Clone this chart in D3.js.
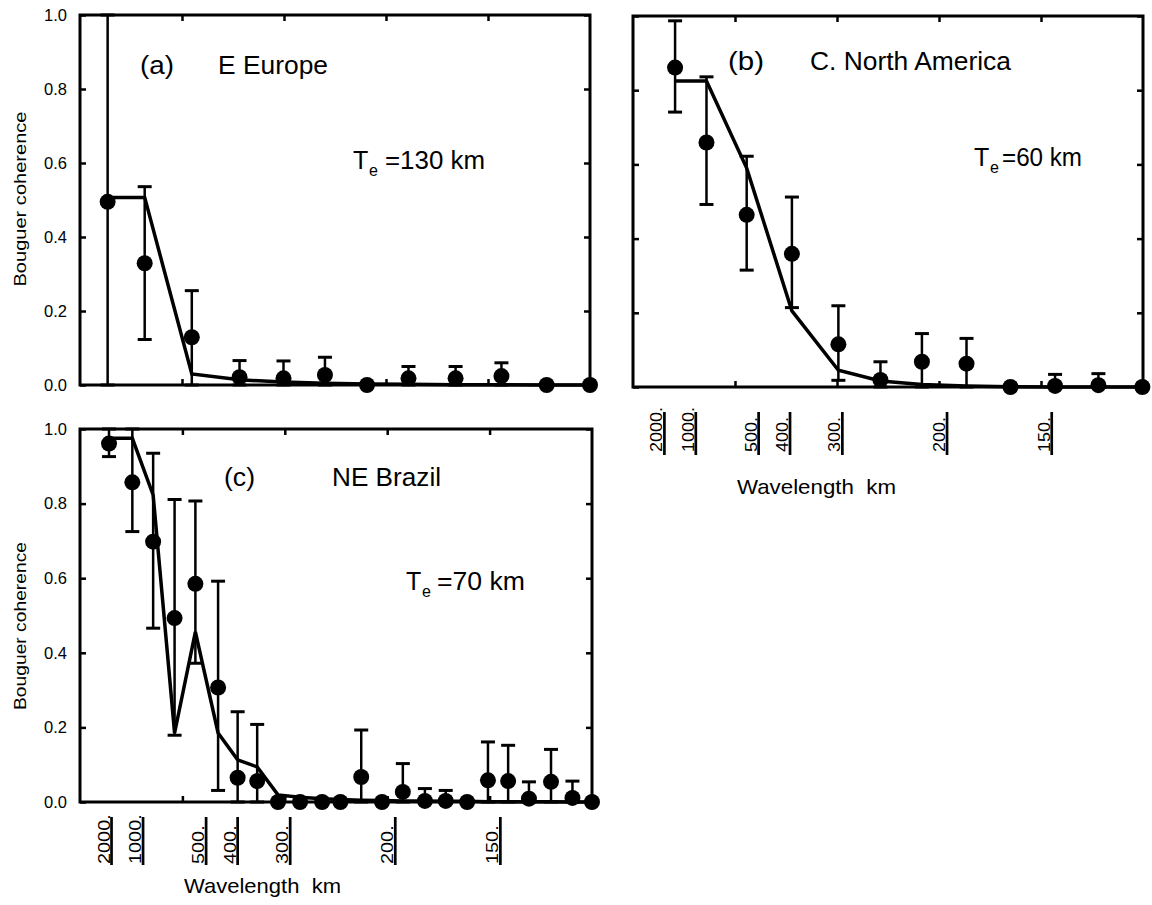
<!DOCTYPE html>
<html>
<head>
<meta charset="utf-8">
<script src="https://cdn.jsdelivr.net/npm/d3@7"></script>
<style>
body { margin: 0; background: #fff; }
svg { display: block; font-family: "Liberation Sans", Arial, Helvetica, sans-serif; }
</style>
</head>
<body>
<svg id="chart" width="1152" height="905"></svg>
<script>
// wavenumber in 1/(1000 km), i.e. 1000 / wavelength
const xMax = 8.12

// (a) E Europe
const waveA = [0.44, 1.03, 1.78, 2.54, 3.24, 3.90, 4.57, 5.23, 5.98, 6.71, 7.43, 8.12]
const cohA = [0.495, 0.329, 0.129, 0.021, 0.018, 0.027, 0, 0.018, 0.018, 0.024, 0, 0]
const lowA = [0, 0.123, 0, 0, 0, 0, null, 0, 0, 0, null, null]
const highA = [1.0, 0.536, 0.255, 0.066, 0.065, 0.075, null, 0.05, 0.05, 0.06, null, null]
const modelA = [0.507, 0.507, 0.03, 0.014, 0.008, 0.005, 0.003, 0.002, 0.001, 0.001, 0, 0]

// (b) C. North America
const waveB = [0.67, 1.17, 1.81, 2.53, 3.27, 3.94, 4.60, 5.31, 6.01, 6.72, 7.41, 8.11]
const cohB = [0.861, 0.659, 0.464, 0.359, 0.115, 0.019, 0.068, 0.063, 0, 0.003, 0.005, 0]
const lowB = [0.741, 0.492, 0.315, 0.214, 0.018, 0, 0, 0, null, 0, 0, null]
const highB = [0.987, 0.836, 0.622, 0.512, 0.219, 0.068, 0.144, 0.131, null, 0.034, 0.036, null]
const modelB = [0.825, 0.825, 0.59, 0.205, 0.045, 0.016, 0.007, 0.003, 0.001, 0, 0, 0]

// (c) NE Brazil
const waveC = [0.46, 0.83, 1.16, 1.50, 1.83, 2.19, 2.50, 2.81, 3.14, 3.49, 3.84, 4.13,
    4.46, 4.79, 5.12, 5.47, 5.80, 6.14, 6.47, 6.79, 7.12, 7.47, 7.81, 8.12]
const cohC = [0.961, 0.857, 0.698, 0.493, 0.585, 0.307, 0.065, 0.056, 0, 0, 0, 0,
    0.067, 0, 0.027, 0.003, 0.003, 0, 0.058, 0.056, 0.009, 0.054, 0.011, 0]
const lowC = [0.926, 0.725, 0.466, 0.179, 0.372, 0.031, 0, 0, null, null, null, null,
    0, null, 0, 0, 0, null, 0, 0, 0, 0, 0, null]
const highC = [1.0, 1.0, 0.935, 0.811, 0.807, 0.592, 0.242, 0.208, null, null, null, null,
    0.193, null, 0.103, 0.036, 0.031, null, 0.161, 0.152, 0.054, 0.141, 0.056, null]
const modelC = [0.975, 0.975, 0.823, 0.185, 0.456, 0.185, 0.113, 0.094, 0.019, 0.013, 0.009, 0.007,
    0.005, 0.004, 0.003, 0.003, 0.002, 0.002, 0.001, 0.001, 0.001, 0.001, 0, 0]

const wavelengthTicks = [2000, 1000, 500, 400, 300, 200, 150]
const wavelengthLabels = ["2000.", "1000.", "500.", "400.", "300.", "200.", "150."]
const yTicks = [0, 0.2, 0.4, 0.6, 0.8, 1.0]

const svg = d3.select('#chart')

const fit = (sel, len) => sel.attr('textLength', len).attr('lengthAdjust', 'spacingAndGlyphs')

const panels = [
    {
        wave: waveA, coh: cohA, low: lowA, high: highA, model: modelA,
        left: 80, right: 590, top: 15, bottom: 385,
        tag: '(a)', tagX: 140, tagLen: 34, region: 'E Europe', regionX: 218, regionLen: 110, titleY: 74,
        te: '=130 km', teX: 353, eqX: 385, eqLen: 100, teY: 169,
        yTitle: {x: 26, cy: 199, len: 175}, yLabels: true, xLabels: null
    },
    {
        wave: waveB, coh: cohB, low: lowB, high: highB, model: modelB,
        left: 633, right: 1143, top: 16, bottom: 387,
        tag: '(b)', tagX: 728, tagLen: 36, region: 'C. North America', regionX: 810, regionLen: 201, titleY: 70,
        te: '=60 km', teX: 974, eqX: 1002, eqLen: 80, teY: 166,
        yTitle: null, yLabels: false,
        xLabels: {barTop: 412, barBottom: 455, textBottom: 452, stretch: 1.06},
        xTitle: {x: 737, y: 494, len: 159}
    },
    {
        wave: waveC, coh: cohC, low: lowC, high: highC, model: modelC,
        left: 80, right: 592, top: 429, bottom: 802,
        tag: '(c)', tagX: 224, tagLen: 31, region: 'NE Brazil', regionX: 332, regionLen: 109, titleY: 486,
        te: '=70 km', teX: 406, eqX: 437, eqLen: 88, teY: 590,
        yTitle: {x: 26, cy: 626, len: 168}, yLabels: true,
        xLabels: {barTop: 817, barBottom: 865, textBottom: 864, stretch: 1.17},
        xTitle: {x: 184, y: 893, len: 157}
    }
]

const drawPanel = function (p) {
    const x = d3.scaleLinear().domain([0, xMax]).range([p.left, p.right])
    const y = d3.scaleLinear().domain([0, 1]).range([p.bottom, p.top])
    const g = svg.append('g')
    const xTickVals = d3.range(1, 5).map(i => i * xMax / 5)

    const styleAxis = sel => {
        sel.select('.domain').remove()
        sel.selectAll('.tick line').attr('stroke', '#000').attr('stroke-width', 2.5)
        sel.selectAll('.tick text').attr('fill', '#000').style('font-size', '16.5px')
    }

    g.append('g').attr('transform', `translate(${p.left},0)`)
        .call(d3.axisLeft(y).tickValues(yTicks).tickSize(-6).tickPadding(13)
            .tickFormat(p.yLabels ? d3.format('.1f') : ''))
        .call(styleAxis)
    g.append('g').attr('transform', `translate(${p.right},0)`)
        .call(d3.axisRight(y).tickValues(yTicks).tickSize(-6).tickFormat(''))
        .call(styleAxis)
    g.append('g').attr('transform', `translate(0,${p.top})`)
        .call(d3.axisTop(x).tickValues(xTickVals).tickSize(-6).tickFormat(''))
        .call(styleAxis)
    g.append('g').attr('transform', `translate(0,${p.bottom})`)
        .call(d3.axisBottom(x).tickValues(xTickVals).tickSize(-6).tickFormat(''))
        .call(styleAxis)

    g.append('rect')
        .attr('x', p.left).attr('y', p.top)
        .attr('width', p.right - p.left).attr('height', p.bottom - p.top)
        .attr('fill', 'none').attr('stroke', '#000').attr('stroke-width', 3)

    const idx = d3.range(p.wave.length)

    // model curve
    g.append('path')
        .datum(idx)
        .attr('fill', 'none').attr('stroke', '#000').attr('stroke-width', 3.5)
        .attr('stroke-linejoin', 'miter')
        .attr('d', d3.line().x(i => x(p.wave[i])).y(i => y(p.model[i])))

    // error bars
    const bars = idx.filter(i => p.low[i] !== null)
    g.selectAll('line.err').data(bars).join('line')
        .attr('class', 'err')
        .attr('x1', i => x(p.wave[i])).attr('x2', i => x(p.wave[i]))
        .attr('y1', i => y(p.low[i])).attr('y2', i => y(p.high[i]))
        .attr('stroke', '#000').attr('stroke-width', 2.5)
    const caps = bars.flatMap(i => [[i, p.low[i]], [i, p.high[i]]])
    g.selectAll('line.cap').data(caps).join('line')
        .attr('class', 'cap')
        .attr('x1', d => x(p.wave[d[0]]) - 7).attr('x2', d => x(p.wave[d[0]]) + 7)
        .attr('y1', d => y(d[1])).attr('y2', d => y(d[1]))
        .attr('stroke', '#000').attr('stroke-width', 3)

    g.selectAll('circle').data(idx).join('circle')
        .attr('cx', i => x(p.wave[i])).attr('cy', i => y(p.coh[i]))
        .attr('r', 8).attr('fill', '#000')

    // titles
    g.append('text').attr('x', p.tagX).attr('y', p.titleY)
        .style('font-size', '25px').text(p.tag).call(fit, p.tagLen)
    g.append('text').attr('x', p.regionX).attr('y', p.titleY)
        .style('font-size', '25px').text(p.region).call(fit, p.regionLen)

    g.append('text').attr('x', p.teX).attr('y', p.teY)
        .style('font-size', '25px').text('T')
    g.append('text').attr('x', p.teX + 16).attr('y', p.teY + 7)
        .style('font-size', '16px').text('e')
    g.append('text').attr('x', p.eqX).attr('y', p.teY)
        .style('font-size', '25px').text(p.te).call(fit, p.eqLen)

    if (p.yTitle) {
        g.append('text')
            .attr('transform', `translate(${p.yTitle.x},${p.yTitle.cy}) rotate(-90)`)
            .attr('text-anchor', 'middle')
            .style('font-size', '17px')
            .text('Bouguer coherence')
            .call(fit, p.yTitle.len)
    }

    if (p.xLabels) {
        const xl = p.xLabels
        wavelengthTicks.forEach((w, i) => {
            const bx = x(1000 / w)
            g.append('line')
                .attr('x1', bx).attr('x2', bx)
                .attr('y1', xl.barTop).attr('y2', xl.barBottom)
                .attr('stroke', '#000').attr('stroke-width', 2.7)
            g.append('text')
                .attr('transform', `translate(${bx - 2},${xl.textBottom}) rotate(-90) scale(${xl.stretch},1)`)
                .attr('text-anchor', 'start')
                .style('font-size', '17px')
                .text(wavelengthLabels[i])
        })
        g.append('text')
            .attr('x', p.xTitle.x).attr('y', p.xTitle.y)
            .style('font-size', '21px').style('white-space', 'pre')
            .text('Wavelength  km')
            .call(fit, p.xTitle.len)
    }
}

panels.forEach(drawPanel)
</script>
</body>
</html>
